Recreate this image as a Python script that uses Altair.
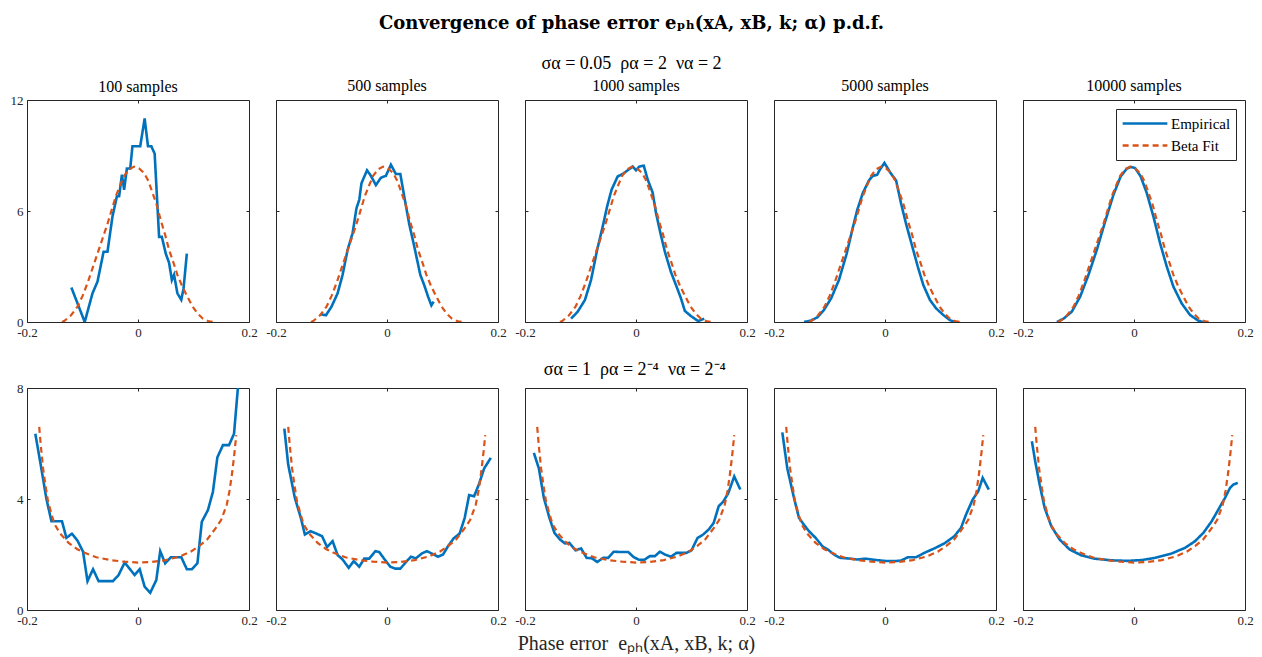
import altair as alt
import pandas as pd

FONT = "Liberation Serif"
MATH_FONT = "DejaVu Serif"
BLUE = "#0072BD"
ORANGE = "#D95319"
FRAME = "#262626"

samples = ["100 samples", "500 samples", "1000 samples", "5000 samples", "10000 samples"]
x_ticks = [-0.2, 0, 0.2]
top_y_ticks = [0, 6, 12]
bot_y_ticks = [0, 4, 8]
series_names = ["Empirical", "Beta Fit"]

main_title = "Convergence of phase error  eₚₕ(xA, xB, k; α) p.d.f."
row1_title = "σα = 0.05\u2002ρα = 2\u2002να = 2"
row2_title = "σα = 1\u2002ρα = 2⁻⁴\u2002να = 2⁻⁴"
x_title = "Phase error\u2002eₚₕ(xA, xB, k; α)"

# ---------- top row (sigma=0.05) ----------
top_fit_x = [-0.137, -0.133, -0.121, -0.109, -0.100, -0.091, -0.082, -0.073, -0.064, -0.055, -0.047,
             -0.040, -0.032, -0.025, -0.016, -0.007, 0.002, 0.011, 0.019, 0.026, 0.034, 0.041, 0.049,
             0.056, 0.064, 0.071, 0.080, 0.089, 0.098, 0.107, 0.117, 0.128, 0.140]
top_fit_y = [0.0, 0.05, 0.35, 0.83, 1.4, 2.1, 2.9, 3.7, 4.5, 5.3, 6.1,
             6.8, 7.4, 7.9, 8.25, 8.4, 8.3, 8.05, 7.6, 7.0, 6.3, 5.5, 4.7,
             3.9, 3.2, 2.55, 1.9, 1.37, 0.85, 0.47, 0.18, 0.03, 0.0]

top1_x = [-0.120, -0.096, -0.082, -0.073, -0.062, -0.055, -0.046, -0.038, -0.034, -0.029, -0.025,
          -0.020, -0.014, -0.010, 0.004, 0.012, 0.018, 0.024, 0.030, 0.038, 0.043, 0.050, 0.056,
          0.061, 0.065, 0.071, 0.078, 0.082, 0.088]
top1_y = [1.86, 0.0, 1.55, 2.18, 3.8, 3.8, 5.7, 6.8, 6.8, 7.96, 7.15,
          8.3, 8.3, 9.5, 9.5, 11.0, 9.5, 9.5, 9.1, 4.6, 4.6, 3.7, 3.2,
          2.27, 2.55, 1.55, 1.2, 1.8, 3.7]

top2_x = [-0.119, -0.110, -0.100, -0.089, -0.080, -0.071, -0.062, -0.055, -0.050, -0.046, -0.036,
          -0.029, -0.020, -0.011, -0.002, 0.007, 0.016, 0.024, 0.031, 0.040, 0.049, 0.060, 0.067,
          0.074, 0.080, 0.084]
top2_y = [0.42, 0.36, 0.83, 1.55, 2.55, 3.9, 4.8, 6.15, 6.6, 7.5, 8.2,
          7.9, 7.4, 7.8, 7.9, 8.5, 8.0, 8.0, 6.8, 5.3, 4.1, 2.55, 2.0,
          1.37, 0.9, 1.1]

top3_x = [-0.117, -0.105, -0.092, -0.081, -0.070, -0.060, -0.052, -0.044, -0.033, -0.024, -0.015,
          -0.006, 0.000, 0.006, 0.014, 0.021, 0.030, 0.036, 0.044, 0.052, 0.063, 0.072, 0.081,
          0.088, 0.099, 0.112, 0.123]
top3_y = [0.18, 0.56, 1.19, 2.27, 3.9, 5.16, 6.25, 7.15, 7.87, 8.0, 8.2,
          8.4, 8.2, 8.4, 8.45, 7.7, 7.0, 5.9, 4.8, 3.8, 2.7, 2.0, 1.28,
          0.6, 0.32, 0.05, 0.18]

top4_x = [-0.146, -0.134, -0.122, -0.110, -0.097, -0.083, -0.069, -0.059, -0.050, -0.040, -0.029,
          -0.022, -0.014, -0.010, -0.001, 0.010, 0.020, 0.029, 0.038, 0.049, 0.059, 0.069, 0.081,
          0.092, 0.105, 0.117, 0.126]
top4_y = [0.0, 0.07, 0.25, 0.65, 1.28, 2.27, 3.7, 4.98, 6.06, 6.97, 7.65,
          7.9, 7.96, 8.2, 8.6, 8.05, 7.65, 6.4, 5.3, 4.1, 3.0, 2.0, 1.19,
          0.74, 0.38, 0.1, 0.0]

top5_x = [-0.139, -0.127, -0.112, -0.097, -0.082, -0.067, -0.052, -0.037, -0.024, -0.013, -0.006,
          0.002, 0.012, 0.023, 0.035, 0.047, 0.059, 0.071, 0.086, 0.101, 0.116, 0.125]
top5_y = [0.0, 0.18, 0.56, 1.37, 2.55, 3.9, 5.43, 6.88, 7.87, 8.29, 8.38,
          8.32, 7.87, 6.97, 5.7, 4.26, 3.0, 1.91, 1.0, 0.38, 0.07, 0.0]

# ---------- bottom row (sigma=1) ----------
bot_fit_x = [-0.178, -0.175, -0.171, -0.166, -0.162, -0.155, -0.150, -0.140, -0.125, -0.110, -0.095,
             -0.075, -0.050, -0.025, 0.000, 0.025, 0.050, 0.075, 0.095, 0.110, 0.125, 0.140, 0.150,
             0.160, 0.165, 0.170, 0.174, 0.177]
bot_fit_y = [6.6, 5.9, 5.1, 4.4, 3.9, 3.4, 3.08, 2.75, 2.42, 2.2, 2.05,
             1.9, 1.8, 1.74, 1.71, 1.73, 1.8, 1.93, 2.1, 2.3, 2.55, 2.95, 3.25,
             3.8, 4.3, 5.0, 5.7, 6.3]

bot1_x = [-0.185, -0.175, -0.165, -0.156, -0.137, -0.129, -0.119, -0.109, -0.099, -0.091, -0.081,
          -0.071, -0.045, -0.035, -0.024, -0.006, 0.003, 0.012, 0.022, 0.033, 0.040, 0.049, 0.059,
          0.078, 0.088, 0.097, 0.107, 0.115, 0.126, 0.135, 0.143, 0.153, 0.164, 0.173, 0.180]
bot1_y = [6.35, 5.2, 4.0, 3.2, 3.2, 2.6, 2.75, 2.5, 2.1, 1.04, 1.47,
          1.04, 1.04, 1.26, 1.71, 1.26, 1.47, 0.84, 0.62, 1.08, 2.12, 1.68, 1.9,
          1.9, 1.47, 1.47, 1.68, 3.18, 3.6, 4.26, 5.5, 5.94, 5.94, 6.35, 8.0]

bot2_x = [-0.185, -0.178, -0.166, -0.155, -0.148, -0.138, -0.128, -0.117, -0.108, -0.098, -0.089,
          -0.080, -0.069, -0.060, -0.050, -0.041, -0.032, -0.021, -0.014, -0.002, 0.006, 0.015,
          0.024, 0.033, 0.043, 0.052, 0.063, 0.072, 0.081, 0.092, 0.101, 0.110, 0.120, 0.131,
          0.140, 0.148, 0.157, 0.166, 0.175, 0.187]
bot2_y = [6.54, 5.24, 4.04, 3.3, 2.72, 2.84, 2.76, 2.66, 2.27, 2.48, 1.98,
          1.82, 1.52, 1.76, 1.56, 1.85, 1.85, 2.12, 2.09, 1.76, 1.56, 1.49,
          1.49, 1.7, 1.92, 1.86, 2.04, 2.12, 2.03, 1.92, 2.0, 2.3, 2.58, 2.76,
          3.32, 4.14, 4.1, 4.55, 5.1, 5.48]

bot3_x = [-0.184, -0.175, -0.166, -0.156, -0.147, -0.137, -0.128, -0.120, -0.109, -0.099, -0.089,
          -0.079, -0.070, -0.059, -0.050, -0.040, -0.029, -0.014, -0.005, 0.005, 0.015, 0.025,
          0.034, 0.043, 0.052, 0.063, 0.073, 0.091, 0.100, 0.111, 0.121, 0.131, 0.140, 0.149,
          0.157, 0.166, 0.177, 0.188]
bot3_y = [5.66, 5.1, 4.04, 3.32, 2.78, 2.54, 2.4, 2.42, 2.15, 2.22, 1.88,
          1.86, 1.73, 1.88, 1.88, 2.1, 2.09, 2.09, 1.92, 1.81, 1.81, 1.94,
          1.94, 2.1, 2.0, 1.92, 2.06, 2.06, 2.15, 2.6, 2.72, 2.9, 3.14, 3.74,
          3.9, 4.2, 4.81, 4.34]

bot4_x = [-0.185, -0.176, -0.164, -0.155, -0.146, -0.137, -0.125, -0.113, -0.101, -0.092, -0.081,
          -0.068, -0.050, -0.035, -0.020, -0.002, 0.017, 0.029, 0.041, 0.056, 0.071, 0.089,
          0.107, 0.125, 0.137, 0.146, 0.158, 0.168, 0.176, 0.187]
bot4_y = [6.4, 5.1, 4.04, 3.32, 3.07, 2.84, 2.6, 2.3, 2.15, 2.0, 1.88,
          1.86, 1.82, 1.85, 1.81, 1.77, 1.76, 1.78, 1.9, 1.9, 2.06, 2.22,
          2.4, 2.66, 2.96, 3.44, 3.98, 4.28, 4.76, 4.34]

bot5_x = [-0.184, -0.178, -0.170, -0.161, -0.149, -0.134, -0.116, -0.095, -0.071, -0.041, -0.011,
          0.014, 0.038, 0.068, 0.092, 0.110, 0.125, 0.140, 0.152, 0.164, 0.173, 0.179, 0.187]
bot5_y = [6.08, 5.36, 4.52, 3.68, 3.02, 2.54, 2.18, 1.97, 1.85, 1.79, 1.77,
          1.8, 1.88, 2.04, 2.24, 2.48, 2.78, 3.2, 3.62, 4.04, 4.4, 4.52, 4.58]

top_emp = [(top1_x, top1_y), (top2_x, top2_y), (top3_x, top3_y), (top4_x, top4_y), (top5_x, top5_y)]
bot_emp = [(bot1_x, bot1_y), (bot2_x, bot2_y), (bot3_x, bot3_y), (bot4_x, bot4_y), (bot5_x, bot5_y)]

W = 222
H_TOP = 222
H_BOT = 222

LABEL_EXPR = ("datum.value == 0 ? '0' : (datum.value < 0 ? '-' + format(-datum.value, '.1f') "
              ": format(datum.value, '.1f'))")


def make_panel(ex, ey, fx, fy, ymax, yticks, first_col, show_legend, title_text, title_offset, xtitle, h):
    emp = pd.DataFrame({"x": ex, "y": ey, "series": "Empirical"})
    fit = pd.DataFrame({"x": fx, "y": fy, "series": "Beta Fit"})

    if show_legend:
        leg = alt.Legend(orient="top-right", title=None, offset=9, strokeColor=FRAME,
                         fillColor="white", padding=5, labelFont=FONT, labelFontSize=15,
                         labelColor="black", symbolType="stroke", symbolSize=2000,
                         symbolStrokeWidth=2.5, rowPadding=3, labelOffset=2, clipHeight=19)
    else:
        leg = None

    color = alt.Color("series:N", scale=alt.Scale(domain=series_names, range=[BLUE, ORANGE]), legend=leg)
    dash = alt.StrokeDash("series:N", scale=alt.Scale(domain=series_names, range=[[1, 0], [6, 4]]), legend=leg)

    xscale = alt.Scale(domain=[-0.2, 0.2], nice=False, zero=False)
    yscale = alt.Scale(domain=[0, ymax], nice=False, zero=False)

    bottom_axis_kw = dict(values=x_ticks, orient="bottom", offset=-3, tickSize=3, domain=False,
                          grid=False, labelFlush=False, labelPadding=4, labelExpr=LABEL_EXPR,
                          labelFont=FONT, labelFontSize=13, labelColor=FRAME, tickColor=FRAME)
    if xtitle:
        bottom_axis_kw.update(title=xtitle, titleFont=FONT, titleFontSize=20, titleFontWeight="normal",
                              titleColor=FRAME, titlePadding=6)
    else:
        bottom_axis_kw.update(title=None)

    left_kw = dict(values=yticks, orient="left", offset=-3, tickSize=3, domain=False, grid=False,
                   labels=first_col, labelFlush=False, labelPadding=4, labelFont=FONT,
                   labelFontSize=13, labelColor=FRAME, tickColor=FRAME, title=None)
    if not first_col:
        left_kw.update(minExtent=0, maxExtent=0)

    l1 = alt.Chart(emp).mark_line(strokeWidth=2.6, clip=True).encode(
        x=alt.X("x:Q", scale=xscale, axis=alt.Axis(**bottom_axis_kw)),
        y=alt.Y("y:Q", scale=yscale, axis=alt.Axis(**left_kw)),
        color=color,
        strokeDash=dash,
    )
    l2 = alt.Chart(fit).mark_line(strokeWidth=2.2, clip=True).encode(
        x=alt.X("x:Q", scale=xscale, axis=alt.Axis(values=[0], orient="top", offset=-3, tickSize=3,
                                                    domain=False, grid=False, labels=False,
                                                    minExtent=0, maxExtent=0,
                                                    tickColor=FRAME, title=None)),
        y=alt.Y("y:Q", scale=yscale, axis=alt.Axis(values=[yticks[1]], orient="right", offset=-3,
                                                    tickSize=3, domain=False, grid=False, labels=False,
                                                    minExtent=0, maxExtent=0,
                                                    tickColor=FRAME, title=None)),
        color=color,
        strokeDash=dash,
    )
    props = dict(width=W, height=h)
    if title_text:
        props["title"] = alt.TitleParams(text=title_text, font=FONT, fontSize=16, fontWeight="normal",
                                         color="black", offset=title_offset, anchor="middle")
    return alt.layer(l1, l2).resolve_axis(x="independent", y="independent").properties(**props)


top_panels = []
for i, (ex, ey) in enumerate(top_emp):
    top_panels.append(make_panel(ex, ey, top_fit_x, top_fit_y, 12, top_y_ticks, i == 0, i == 4,
                                 samples[i], -1 if i == 0 else 6, None, H_TOP))
bot_panels = []
for i, (ex, ey) in enumerate(bot_emp):
    bot_panels.append(make_panel(ex, ey, bot_fit_x, bot_fit_y, 8, bot_y_ticks, i == 0, False,
                                 None, 0, x_title if i == 2 else None, H_BOT))

row1 = alt.hconcat(*top_panels, spacing=27, bounds="flush").resolve_scale(
    color="independent", strokeDash="independent", x="independent", y="independent"
).properties(title=alt.TitleParams(text=row1_title, font=FONT, fontSize=18, fontWeight="normal",
                                   color="black", anchor="middle", offset=4))
row2 = alt.hconcat(*bot_panels, spacing=27, bounds="flush").resolve_scale(
    color="independent", strokeDash="independent", x="independent", y="independent"
).properties(title=alt.TitleParams(text=row2_title, font=FONT, fontSize=18, fontWeight="normal",
                                   color="black", anchor="middle", offset=3))

chart = alt.vconcat(row1, row2, spacing=20).resolve_scale(
    color="independent", strokeDash="independent", x="independent", y="independent"
).properties(
    title=alt.TitleParams(text=main_title, font=MATH_FONT, fontSize=18, fontWeight="bold", color="black",
                          anchor="middle", offset=22),
    padding={"left": 1, "top": 7, "right": 0, "bottom": 0},
    background="white",
).configure_view(stroke=FRAME, strokeWidth=1)

chart.save("out.html", embed_options={"renderer": "svg", "actions": False})
